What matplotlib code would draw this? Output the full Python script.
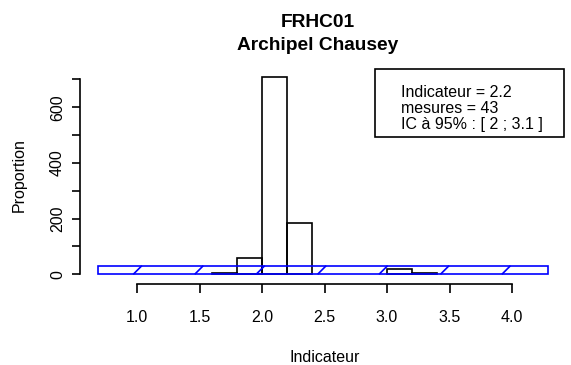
import numpy as np
import matplotlib
matplotlib.use('Agg')
from matplotlib import pyplot as plt
from matplotlib.patches import Rectangle

matplotlib.rcParams.update({'font.family': ['Liberation Sans', 'DejaVu Sans'], 'font.size': 11.5})

# histogram (bin left edges, width 0.2)
bin_left = [1.6, 1.8, 2.0, 2.2, 3.0, 3.2]
bin_height = [4, 57, 710, 186, 18, 6]
bin_width = 0.2

# confidence band drawn as a hatched blue box
band_x = [0.69, 4.29]
band_y = [0, 31]

x_ticks = [1.0, 1.5, 2.0, 2.5, 3.0, 3.5, 4.0]
x_labels = ['1.0', '1.5', '2.0', '2.5', '3.0', '3.5', '4.0']
y_ticks = [0, 100, 200, 300, 400, 500, 600, 700]
y_labels = ['0', '', '200', '', '400', '', '600', '']

title_lines = ['FRHC01', 'Archipel Chausey']
legend_lines = ['Indicateur = 2.2', 'mesures = 43', 'IC à 95% : [ 2 ; 3.1 ]']

W, H = 571, 365


def fx(px):
    return px / W


def fy(py):
    return 1 - py / H


fig = plt.figure(figsize=(W / 100, H / 100), dpi=100)
ax = fig.add_axes([fx(80), fy(283.5), fx(567.5) - fx(80), fy(68) - fy(283.5)])
ax.set_xlim(0.544, 4.444)
ax.set_ylim(-33, 740.8)

lw = 1.2
ax.bar(bin_left, bin_height, width=bin_width, align='edge', fill=False,
       edgecolor='black', linewidth=lw)

# blue box with sparse 45 degree hatching
ax.add_patch(Rectangle((band_x[0], band_y[0]), band_x[1] - band_x[0], band_y[1] - band_y[0],
                       fill=False, edgecolor='#0000ff', linewidth=lw))
# slope so that lines are at 45 degrees on screen
p0 = ax.transData.transform((0, 0))
p1 = ax.transData.transform((1, 1))
dx = (band_y[1] - band_y[0]) * (p1[1] - p0[1]) / (p1[0] - p0[0])
hatch_step = 0.4915
x0 = 0.97
while x0 + dx <= band_x[1]:
    if x0 >= band_x[0]:
        ax.plot([x0, x0 + dx], band_y, color='#0000ff', linewidth=lw, solid_capstyle='butt')
    x0 += hatch_step

for s in ['top', 'right']:
    ax.spines[s].set_visible(False)
ax.spines['left'].set_bounds(0, 700)
ax.spines['bottom'].set_bounds(1, 4)
ax.spines['left'].set_linewidth(lw)
ax.spines['bottom'].set_linewidth(lw)

ax.set_xticks(x_ticks)
ax.set_xticklabels(x_labels)
ax.set_yticks(y_ticks)
ax.set_yticklabels(y_labels, rotation=90, va='center')
ax.tick_params(axis='x', length=6.3, width=lw, pad=12.5)
ax.tick_params(axis='y', length=5.8, width=lw, pad=5)

fig.text(fx(325), fy(361.5), 'Indicateur', ha='center', va='baseline')
fig.text(fx(23.3), fy(175.5), 'Proportion', ha='center', va='baseline', rotation=90,
         rotation_mode='anchor')

fig.text(fx(318), fy(27), title_lines[0], ha='center', va='baseline',
         fontsize=13.8, fontweight='bold')
fig.text(fx(318), fy(50), title_lines[1], ha='center', va='baseline',
         fontsize=13.8, fontweight='bold')

# legend box
fig.patches.append(Rectangle((fx(375), fy(137.3)), fx(564) - fx(375), fy(69.3) - fy(137.3),
                             transform=fig.transFigure, fill=False,
                             edgecolor='black', linewidth=lw))
for i, line in enumerate(legend_lines):
    fig.text(fx(400.7), fy(96.7 + 16.2 * i), line, ha='left', va='baseline')

plt.savefig('out.png', dpi=100)
